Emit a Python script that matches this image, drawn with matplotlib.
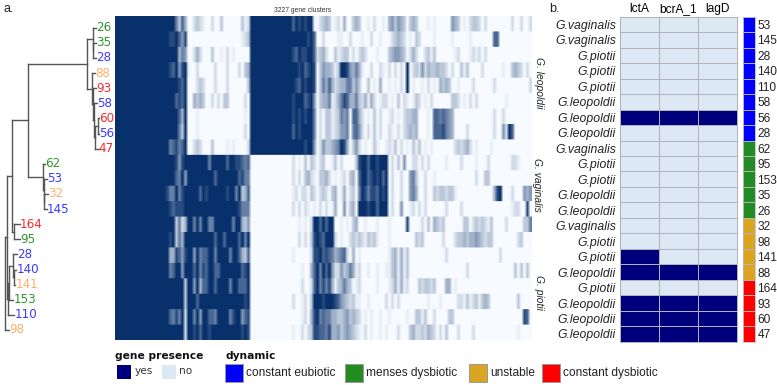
import numpy as np
import matplotlib
matplotlib.use("Agg")
import matplotlib.pyplot as plt
from matplotlib.colors import LinearSegmentedColormap, ListedColormap, PowerNorm
from matplotlib.patches import Rectangle

W, H = 777, 385
SANS = "Liberation Sans"

# ---------- a. gene cluster presence, one string per genome, digit = shade 0-9
segment_sizes = [24, 21, 21, 24, 49]
heat_rows = [
 "999999999999999999996374 002321002003000000312 999999999999997989899 102343012040034300102001 0453543034300010100000543010233202000000002002002",
 "999999999999999999889758 000000000000000000123 999999999999999999989 700200001100200010020010 0023432010320000100000100000100000007700000000000",
 "999999999999999999999465 002420003001020100000 999999999999998798899 723420031233020232000100 0345543024200231300000012000121202000000000000000",
 "999999999999999999879589 100200000200020002034 999999999999999989789 803544313998546410020021 0202020902325243343320200313000020000001003432020",
 "999999999999999999999879 000232000200020000003 999999999999999879899 803647423446635300301040 0101020901001020104343001000020000002000000000002",
 "999999999999999999997879 004343002020330000020 999999999999998999789 503446124687446324142012 2010302101320102000000332010202000000000100000000",
 "999999999999999999999749 000100000000000000010 999999999999998989899 602033123656077420103020 01201023344000107767654000000000000020020",
 "999999999999999999999639 000100000000000000020 999999999999997989999 602033123556067520203020 0210202343400010777865400002000000002005297",
 "999999999999999999678679 002320003000010100002 999999999999999999899 502533456984035201003100 1213020103130101000000023234201000010",
 "999999999999999999998589 999999969999979988767 000000000000002010303 202300130200003899799899 902030500220202000001000020000100020000000221",
 "999999999999999999997695 999999999799999997866 000000000000002020342 103342010120340799789897 90200200563002001000000000000020033",
 "999999999999999998669689 999979899999989969347 000000000000001202203 202320340140230698688798 9020020056400200323323310000000000004890002000545",
 "999999999999999999878889 999999999999999998666 000000000000002020210 102020140050340999899799 90200500120202000000200002000000000000000012200800",
 "999999999999999999993624 996969966999999699435 000000000000000010102 997979900101034001000100 0100000800002030432300000033023232130000200000336",
 "999999999999999999893649 999999999799799997969 000000000000000020203 898799920100232321323100 0100000000323000000200023343445432330000000023",
 "999999999999999999448758 995967799699996997437 000000000000001000002 889787645672040100000000 013414130000000000002000000000000000002",
 "999999999999999999679959 997968799779999999789 000000000000000001004 796979522534641200100100 1134141300000000000000000002000000000000000303030",
 "999999999999999999999993 995947799799996997779 000000000000000002002 796868413464301200000100 012414120003233230004401",
 "999999999999999999999993 999799999999999999989 000000000000002001203 999899987543231100100000 202020000000001000100000221312313430000000003",
 "999999999999999999768692 996959977699996899578 000000000000000001204 896766443345343201010010 010000010033130020000330000000000000000000000087",
 "999999999999999999999992 998979989999999999898 000000000000001002023 887768445345432102010010 10002000342232432020300020000200000000000000100",
]

# tree as nested (branch position, children); tips are (label, branch position, dynamic)
tree = (5.0, [
    (7.3, [
        (11.7, [
            (27.7, [
                (87.3, [
                    (92.7, [("26", 95.7, "me"),
                            (93.3, [("35", 96.0, "me"), ("28", 96.0, "ce")])]),
                    (91.7, [("88", 95.0, "un"),
                            (92.7, [("93", 96.0, "cd"),
                                    (94.0, [("58", 97.3, "ce"),
                                            (94.7, [(98.0, [("60", 99.3, "cd"), ("56", 99.3, "ce")]),
                                                    ("47", 98.7, "cd")])])])]),
                ]),
                (43.3, [("62", 45.3, "me"),
                        (43.6, [("53", 47.0, "ce"),
                                (44.3, [("32", 47.7, "un"), ("145", 46.7, "ce")])])]),
            ]),
            (14.0, [("164", 19.7, "cd"), ("95", 20.0, "me")]),
        ]),
        (8.3, [
            (8.7, [
                (13.3, [("28", 16.7, "ce"),
                        (14.0, [("140", 16.0, "ce"), ("141", 15.3, "un")])]),
                ("153", 13.0, "me"),
            ]),
            ("110", 14.0, "ce"),
        ]),
    ]),
    ("98", 9.3, "un"),
])
tip_colors = {"ce": "#3a3aff", "me": "#2e962e", "un": "#f8b26a", "cd": "#f52c2c"}

# ---------- b. bacteriocin genes
gene_names = ["lctA", "bcrA_1", "lagD"]
b_species = ["G.vaginalis", "G.vaginalis", "G.piotii", "G.piotii", "G.piotii", "G.leopoldii",
             "G.leopoldii", "G.leopoldii", "G.vaginalis", "G.piotii", "G.piotii", "G.leopoldii",
             "G.leopoldii", "G.vaginalis", "G.piotii", "G.piotii", "G.leopoldii", "G.piotii",
             "G.leopoldii", "G.leopoldii", "G.leopoldii"]
b_ids = ["53", "145", "28", "140", "110", "58", "56", "28", "62", "95", "153", "35", "26",
         "32", "98", "141", "88", "164", "93", "60", "47"]
b_presence = [[0, 0, 0], [0, 0, 0], [0, 0, 0], [0, 0, 0], [0, 0, 0], [0, 0, 0], [1, 1, 1],
              [0, 0, 0], [0, 0, 0], [0, 0, 0], [0, 0, 0], [0, 0, 0], [0, 0, 0], [0, 0, 0],
              [0, 0, 0], [1, 0, 0], [1, 1, 1], [0, 0, 0], [1, 1, 1], [1, 1, 1], [1, 1, 1]]
b_dynamic = [0] * 8 + [1] * 5 + [2] * 4 + [3] * 4
dynamic_names = ["constant eubiotic", "menses dysbiotic", "unstable", "constant dysbiotic"]
dynamic_colors = ["#0000ff", "#228b22", "#daa520", "#ff0000"]
presence_colors = ["#dde8f5", "#00007f"]
clade_names = ["G. leopoldii", "G. vaginalis", "G. piotii"]


def box(x0, y0, x1, y1):
    return [x0 / W, 1 - y1 / H, (x1 - x0) / W, (y1 - y0) / H]


fig = plt.figure(figsize=(W / 100, H / 100), dpi=100, facecolor="white")
bg = fig.add_axes([0, 0, 1, 1])
bg.set_xlim(0, W)
bg.set_ylim(H, 0)
bg.axis("off")

# main heatmap
matrix = []
for row in heat_rows:
    parts = row.split(" ")
    text = "".join(p.ljust(n, "0")[:n] for p, n in zip(parts, segment_sizes))
    matrix.append([int(c) for c in text])
matrix = np.array(matrix, dtype=float)
cmap = LinearSegmentedColormap.from_list("pan", ["#f7fbff", "#08306b"])
ax = fig.add_axes(box(114.5, 16, 531, 340))
ax.imshow(np.repeat(matrix, 15, axis=0), aspect="auto", cmap=cmap,
          norm=PowerNorm(1.25, vmin=0, vmax=9), interpolation="bilinear")
ax.axis("off")

# tree
tx = fig.add_axes(box(0, 27.7 - 7.55, 112, 330 + 7.55))
tx.set_xlim(0, 112)
tx.set_ylim(20.5, -0.5)
tx.axis("off")
LINE = dict(color="#555555", lw=1.0, solid_capstyle="projecting")
tip_counter = [0]


def draw(node):
    """Draw a node and return its vertical position."""
    if isinstance(node[0], str):
        y = tip_counter[0]
        tip_counter[0] += 1
        tx.text(node[1] + 0.2, y, node[0], color=tip_colors[node[2]], fontsize=8.6,
                va="center", ha="left", family="DejaVu Sans")
        return y
    x, kids = node
    ys = []
    for kid in kids:
        ky = draw(kid)
        kx = kid[1] if isinstance(kid[0], str) else kid[0]
        tx.plot([x, kx], [ky, ky], **LINE)
        ys.append(ky)
    tx.plot([x, x], [ys[0], ys[-1]], **LINE)
    return (ys[0] + ys[-1]) / 2


draw(tree)

# panel b heatmap
bx = fig.add_axes(box(620, 16.7, 736.7, 341.7))
bx.pcolormesh(np.array(b_presence), cmap=ListedColormap(presence_colors), vmin=0, vmax=1,
              edgecolors="#b2b2bb", linewidth=0.6)
bx.set_ylim(len(b_presence), 0)
bx.set_xticks(np.arange(3) + 0.5, gene_names)
bx.xaxis.tick_top()
bx.set_yticks(np.arange(21) + 0.5, b_species)
bx.tick_params(axis="x", length=0, pad=1.5)
bx.tick_params(axis="y", length=0, pad=2.8)
for lab in bx.get_xticklabels():
    lab.set(family=SANS, fontsize=8.6)
for lab in bx.get_yticklabels():
    lab.set(family=SANS, fontsize=8.8, style="italic", color="#222222")
for s in bx.spines.values():
    s.set(color="#b2b2bb", lw=0.7)

# dynamic annotation column
cx = fig.add_axes(box(743.3, 16.7, 755.3, 341.7))
cx.pcolormesh(np.array(b_dynamic)[:, None], cmap=ListedColormap(dynamic_colors), vmin=0, vmax=3,
              edgecolors="#b2b2bb", linewidth=0.4)
cx.set_ylim(21, 0)
cx.set_xticks([])
cx.yaxis.tick_right()
cx.set_yticks(np.arange(21) + 0.5, b_ids)
cx.tick_params(length=0, pad=1.5)
for lab in cx.get_yticklabels():
    lab.set(family=SANS, fontsize=8.6, color="#222222")
for s in cx.spines.values():
    s.set(color="#b2b2bb", lw=0.5)

# texts
bg.text(302.7, 10.7, "3227 gene clusters", fontsize=4.9, family=SANS, color="#333333",
        ha="center", va="center")
bg.text(3, 9.5, "a.", fontsize=9, family=SANS, color="#222222", ha="left", va="center")
bg.text(549, 8.5, "b.", fontsize=9, family=SANS, color="#222222", ha="left", va="center")
for name, x, y in zip(clade_names, [539, 537, 539], [83, 185, 292]):
    bg.text(x, y, name, rotation=-90, fontsize=7.4, family=SANS, style="italic",
            color="#222222", ha="center", va="center")

# legend
bg.text(115, 356, "gene presence", fontsize=7.7, weight="bold", family="DejaVu Sans",
        ha="left", va="center", color="#111111")
bg.text(225, 356, "dynamic", fontsize=7.7, weight="bold", family="DejaVu Sans",
        ha="left", va="center", color="#111111")
for c, x, name, tx_x in zip(presence_colors[::-1], [116.7, 161.7], ["yes", "no"], [135, 178.5]):
    bg.add_patch(Rectangle((x, 365), 14, 14, fc=c, ec="none"))
    bg.text(tx_x, 370.5, name, fontsize=7.6, family="DejaVu Sans", color="#333333",
            ha="left", va="center")
for c, x, name in zip(dynamic_colors, [225, 345, 469.3, 542], dynamic_names):
    bg.add_patch(Rectangle((x, 364), 17.5, 17.5, fc=c, ec="#999999", lw=0.7))
    bg.text(x + 20.7, 373.2, name, fontsize=8.6, family=SANS, color="#222222",
            ha="left", va="center")

fig.savefig("out.png", dpi=100)
